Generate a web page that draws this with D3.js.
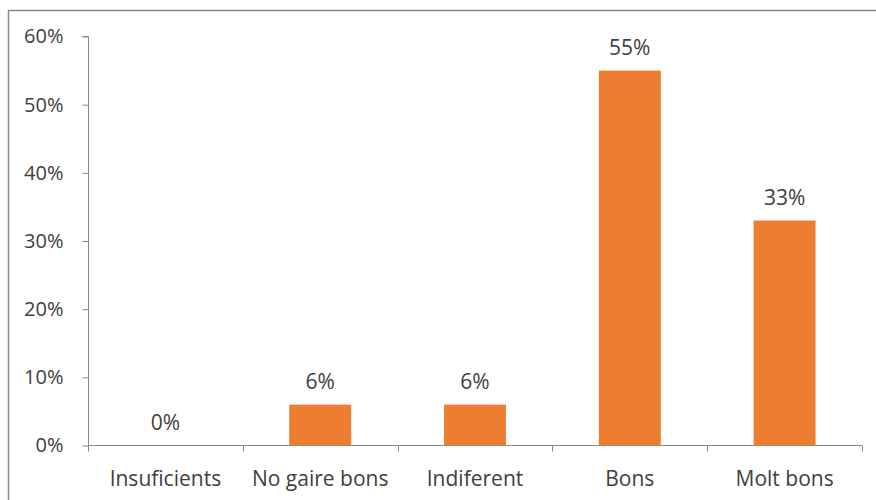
<!DOCTYPE html>
<html><head><meta charset="utf-8">
<script src="https://cdn.jsdelivr.net/npm/d3@7"></script>
<style>body{margin:0;background:#fff}svg{display:block}text{font-family:"Open Sans","Noto Sans",sans-serif;fill:#404040}</style>
</head><body>
<script>
const categories = ["Insuficients","No gaire bons","Indiferent","Bons","Molt bons"];
const values = [0, 0.06, 0.06, 0.55, 0.33];
const yTicks = [0,0.1,0.2,0.3,0.4,0.5,0.6];

const W=876,H=500;
const svg=d3.select("body").append("svg").attr("width",W).attr("height",H);
svg.append("rect").attr("x",8.5).attr("y",10.5).attr("width",W).attr("height",H).attr("fill","none").attr("stroke","#898989").attr("stroke-width",1.5);

const x=d3.scaleBand().domain(categories).range([88,862]).paddingInner(0.6).paddingOuter(0.3);
const y=d3.scaleLinear().domain([0,0.6]).range([445.5,36.5]);
const fmt=d3.format(".0%");

const gy=svg.append("g").attr("transform","translate(88.5,0)")
  .call(d3.axisLeft(y).tickValues(yTicks).tickFormat(fmt).tickSize(6).tickPadding(19));
gy.select(".domain").attr("stroke","#898989").attr("d","M-6,"+y(0.6)+"H0V"+y(0));
gy.selectAll(".tick line").attr("stroke","#898989");
gy.selectAll(".tick text").style("font-size","20px").attr("fill","#404040");

const bounds=d3.range(categories.length+1).map(i=>88+i*(862-88)/categories.length);
svg.append("line").attr("x1",88).attr("x2",862).attr("y1",445.5).attr("y2",445.5).attr("stroke","#898989");
svg.selectAll(".bt").data(bounds).enter().append("line")
  .attr("x1",d=>Math.round(d)+0.5).attr("x2",d=>Math.round(d)+0.5).attr("y1",445.5).attr("y2",451.5).attr("stroke","#898989");

svg.selectAll(".bar").data(values).enter().append("rect")
  .attr("x",(d,i)=>x(categories[i])).attr("width",x.bandwidth())
  .attr("y",d=>y(d)).attr("height",d=>y(0)-y(d)).attr("fill","#ED7D31");

svg.selectAll(".lbl").data(values).enter().append("text")
  .attr("x",(d,i)=>x(categories[i])+x.bandwidth()/2).attr("y",d=>y(d)-16)
  .attr("text-anchor","middle").style("font-size","21px").text(d=>fmt(d));

svg.selectAll(".cat").data(categories).enter().append("text")
  .attr("x",d=>x(d)+x.bandwidth()/2).attr("y",486)
  .attr("text-anchor","middle").style("font-size","21px").text(d=>d);
</script>
</body></html>
